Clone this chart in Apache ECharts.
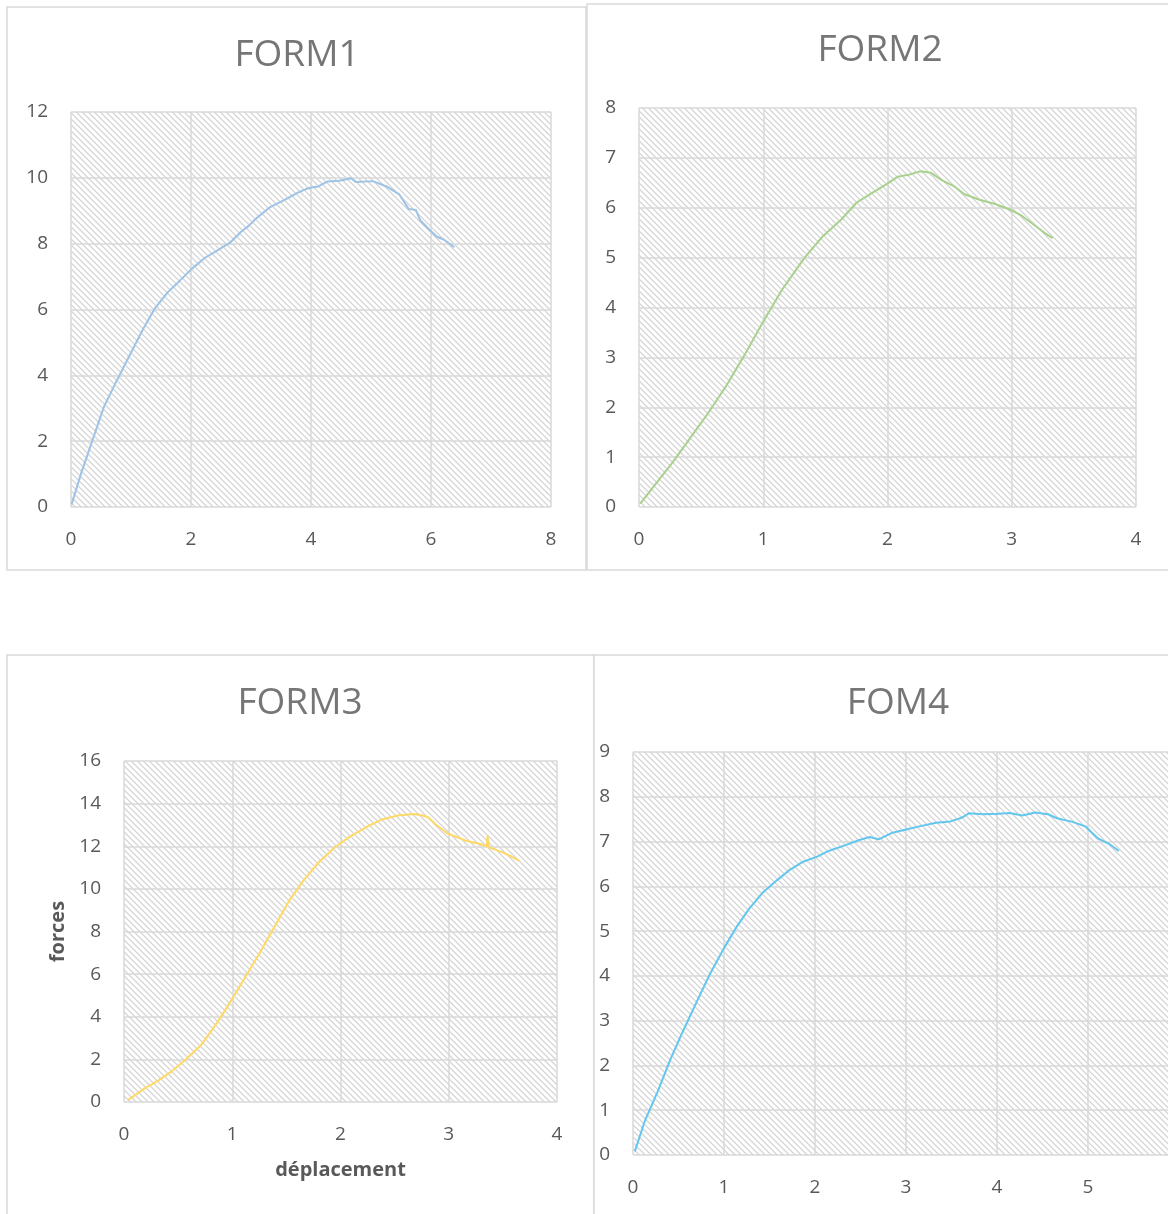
<!DOCTYPE html>
<html>
<head>
<meta charset="utf-8">
<script src="https://cdn.jsdelivr.net/npm/echarts@6/dist/echarts.min.js"></script>
<style>
  html, body { margin: 0; padding: 0; background: #fff; overflow: hidden; }
  #main { width: 1168px; height: 1214px; }
</style>
</head>
<body>
<div id="main"></div>
<script>
// déplacement / forces pairs
var form1 = [
  [0.01, 0.08], [0.17, 1.03], [0.36, 2.04], [0.55, 3.05], [0.76, 3.83], [0.98, 4.62],
  [1.2, 5.4], [1.39, 6.01], [1.61, 6.52], [1.77, 6.8], [2.02, 7.25], [2.24, 7.58],
  [2.4, 7.75], [2.65, 8.03], [2.84, 8.37], [2.96, 8.54], [3.09, 8.77], [3.31, 9.1],
  [3.56, 9.33], [3.78, 9.55], [3.96, 9.69], [4.12, 9.74], [4.28, 9.89], [4.47, 9.91],
  [4.67, 9.99], [4.75, 9.87], [5.03, 9.9], [5.28, 9.72], [5.47, 9.5], [5.63, 9.05],
  [5.75, 9.02], [5.82, 8.71], [5.97, 8.43], [6.1, 8.21], [6.22, 8.12], [6.39, 7.89]
]
var form2 = [
  [0.01, 0.07], [0.13, 0.45], [0.26, 0.86], [0.4, 1.34], [0.55, 1.86], [0.7, 2.42],
  [0.85, 3.05], [1.0, 3.72], [1.15, 4.35], [1.33, 4.99], [1.48, 5.43], [1.63, 5.77],
  [1.75, 6.1], [1.87, 6.29], [1.99, 6.47], [2.08, 6.62], [2.17, 6.66], [2.26, 6.73],
  [2.35, 6.7], [2.44, 6.55], [2.53, 6.44], [2.62, 6.27], [2.74, 6.16], [2.86, 6.08],
  [2.98, 5.97], [3.08, 5.84], [3.2, 5.62], [3.28, 5.47], [3.33, 5.39]
]
var form3 = [
  [0.04, 0.1], [0.19, 0.64], [0.31, 0.98], [0.43, 1.4], [0.57, 1.99], [0.71, 2.66],
  [0.83, 3.5], [0.96, 4.51], [1.1, 5.69], [1.24, 6.87], [1.38, 8.13], [1.52, 9.4],
  [1.66, 10.41], [1.8, 11.25], [1.94, 11.92], [2.08, 12.43], [2.25, 12.93], [2.39, 13.27],
  [2.53, 13.44], [2.67, 13.51], [2.74, 13.47], [2.81, 13.36], [2.88, 13.02], [2.99, 12.6],
  [3.16, 12.26], [3.27, 12.13], [3.35, 12.01], [3.36, 12.5], [3.37, 11.95], [3.48, 11.75],
  [3.55, 11.59], [3.65, 11.33]
]
var form4 = [
  [0.02, 0.08], [0.13, 0.76], [0.27, 1.41], [0.41, 2.13], [0.55, 2.77], [0.7, 3.42],
  [0.84, 4.02], [1.0, 4.62], [1.14, 5.1], [1.28, 5.51], [1.43, 5.87], [1.59, 6.15],
  [1.71, 6.35], [1.87, 6.55], [2.03, 6.67], [2.15, 6.79], [2.32, 6.91], [2.48, 7.03],
  [2.6, 7.1], [2.7, 7.05], [2.84, 7.19], [3.0, 7.27], [3.17, 7.35], [3.33, 7.42],
  [3.49, 7.45], [3.61, 7.53], [3.69, 7.63], [3.85, 7.61], [4.02, 7.62], [4.14, 7.64],
  [4.28, 7.58], [4.42, 7.65], [4.56, 7.61], [4.66, 7.52], [4.83, 7.44], [4.97, 7.34],
  [5.11, 7.07], [5.23, 6.95], [5.34, 6.79]
]

var titles = ['FORM1', 'FORM2', 'FORM3', 'FOM4']
var colors = ['#9DC3E6', '#A9D18E', '#FFD966', '#62C6EE']
var xMax = [8, 4, 4, 6]
var xStep = [2, 1, 1, 1]
var yMax = [12, 8, 16, 9]
var yStep = [2, 1, 2, 1]

// plot area boxes [left, top, width, height]
var boxes = [
  [71, 112, 480, 395],
  [639, 108, 497, 399],
  [124, 761, 433, 341],
  [633, 752, 546, 403]
]
var titlePos = [[297, 55], [880, 50], [300, 703], [898, 703]]

// diagonal hatch like the excel pattern fill
function hatch () {
  var c = document.createElement('canvas')
  c.width = 6
  c.height = 6
  var ctx = c.getContext('2d')
  var img = ctx.createImageData(6, 6)
  for (var y = 0; y < 6; y++) {
    for (var x = 0; x < 6; x++) {
      var d = ((x - y) % 6 + 6) % 6
      var v = d === 0 ? 214 : d === 1 ? 228 : d === 5 ? 246 : 255
      var i = (y * 6 + x) * 4
      img.data[i] = v
      img.data[i + 1] = v
      img.data[i + 2] = v
      img.data[i + 3] = 255
    }
  }
  ctx.putImageData(img, 0, 0)
  return c
}
var pattern = { image: hatch(), repeat: 'repeat' }

var font = '"Open Sans", sans-serif'
var grids = [], xAxes = [], yAxes = [], series = [], titleOpts = []
var datasets = [form1, form2, form3, form4]

for (var k = 0; k < 4; k++) {
  var b = boxes[k]
  grids.push({
    left: b[0], top: b[1], width: b[2], height: b[3],
    outerBoundsMode: 'none',
    show: true, backgroundColor: pattern, borderWidth: 0
  })
  xAxes.push({
    gridIndex: k, type: 'value', min: 0, max: xMax[k], interval: xStep[k],
    axisLine: { show: false }, axisTick: { show: false },
    axisLabel: { color: '#595959', fontSize: 19, fontFamily: font, margin: 23 },
    splitLine: { show: true, lineStyle: { color: '#d9d9d9', width: 1.5 } },
    name: k === 2 ? 'déplacement' : '',
    nameLocation: 'middle', nameGap: 58,
    nameTextStyle: { color: '#595959', fontSize: 20, fontWeight: 'bold', fontFamily: font }
  })
  yAxes.push({
    gridIndex: k, type: 'value', min: 0, max: yMax[k], interval: yStep[k],
    axisLine: { show: false }, axisTick: { show: false },
    axisLabel: { color: '#595959', fontSize: 19, fontFamily: font, margin: 23 },
    splitLine: { show: true, lineStyle: { color: '#d9d9d9', width: 1.5 } },
    name: k === 2 ? 'forces' : '',
    nameLocation: 'middle', nameGap: 56, nameRotate: 90,
    nameTextStyle: { color: '#595959', fontSize: 20, fontWeight: 'bold', fontFamily: font }
  })
  series.push({
    type: 'line', xAxisIndex: k, yAxisIndex: k,
    data: datasets[k], showSymbol: false, smooth: false,
    lineStyle: { color: colors[k], width: 2 },
    itemStyle: { color: colors[k] }
  })
  titleOpts.push({
    text: titles[k], left: titlePos[k][0], top: titlePos[k][1] - 18,
    textAlign: 'center', padding: 0,
    textStyle: { color: '#767676', fontSize: 37, fontWeight: 'normal', fontFamily: font }
  })
}

// panel frames
var frames = [
  [7, 7, 579, 563],
  [587, 4, 620, 566],
  [7, 655, 587, 620],
  [594, 655, 620, 620]
].map(function (r) {
  return {
    type: 'rect', z: -1, silent: true,
    shape: { x: r[0], y: r[1], width: r[2], height: r[3] },
    style: { fill: '#fff', stroke: '#d9d9d9', lineWidth: 1.5 }
  }
})

var chart = echarts.init(document.getElementById('main'))
chart.setOption({
  animation: false,
  backgroundColor: '#fff',
  title: titleOpts,
  graphic: frames,
  grid: grids,
  xAxis: xAxes,
  yAxis: yAxes,
  series: series
})
</script>
</body>
</html>
